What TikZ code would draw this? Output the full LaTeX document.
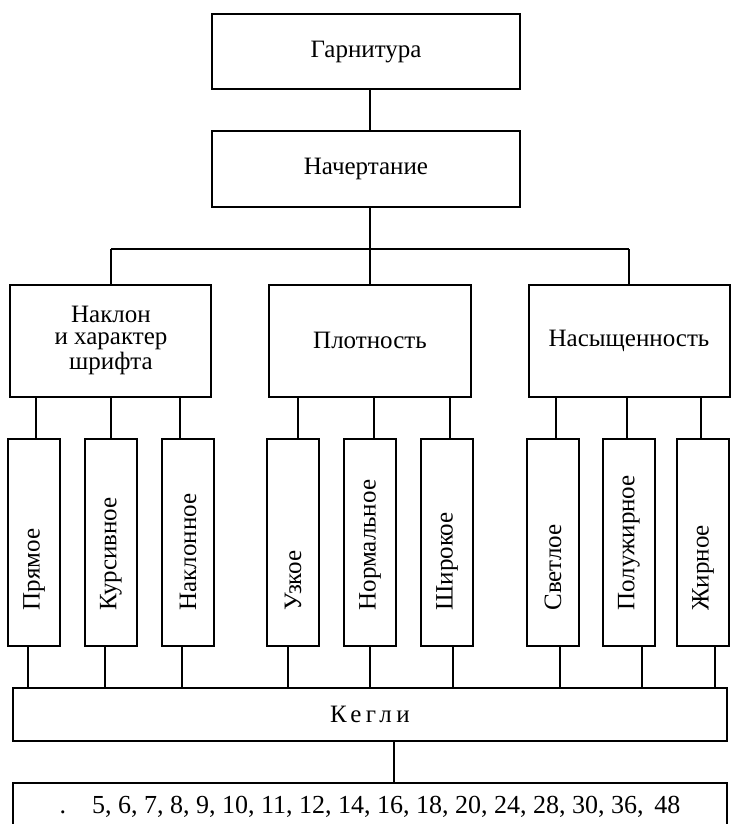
\documentclass[tikz,border=0pt]{standalone}
\usepackage{fontspec}
\setmainfont{Liberation Serif}
\usepackage{tikz}
\usetikzlibrary{positioning,calc}
\newcommand{\vtext}[1]{\rotatebox{90}{\makebox[68.5pt][l]{#1}}}

\begin{document}
\begin{tikzpicture}[
    node distance=20pt,
    line width=1pt,
    font=\fontsize{12.5}{11.3}\selectfont,
    topbox/.style={rectangle, draw, minimum width=153.5pt, minimum height=37.5pt},
    groupbox/.style={rectangle, draw, minimum width=100.5pt, minimum height=56pt, align=center},
    leaf/.style={rectangle, draw, minimum width=26pt, minimum height=103.5pt, inner sep=0pt},
    widebox/.style={rectangle, draw, minimum width=357pt, minimum height=26.5pt}
]
\useasboundingbox (-183pt,26pt) rectangle (182.5pt,-386pt);

% Typeface
\node[topbox] (garn) {Гарнитура};

% Design
\node[topbox, below=of garn] (nach) {Начертание};

% Three groups
\node[groupbox, below=38pt of nach, xshift=2pt] (plot) {Плотность};
\node[groupbox, left=28pt of plot] (nak) {Наклон\\и характер\\шрифта};
\node[groupbox, right=28pt of plot] (nas) {Насыщенность};

% Slope
\node[leaf, below=of nak] (kur) {\vtext{Курсивное}};
\node[leaf, left=11.5pt of kur] (pr) {\vtext{Прямое}};
\node[leaf, right=11.5pt of kur] (nakl) {\vtext{Наклонное}};

% Width
\node[leaf, below=of plot] (norm) {\vtext{Нормальное}};
\node[leaf, left=11.5pt of norm] (uz) {\vtext{Узкое}};
\node[leaf, right=11.5pt of norm] (shir) {\vtext{Широкое}};

% Weight
\node[leaf, below=of nas] (polu) {\vtext{Полужирное}};
\node[leaf, left=11pt of polu] (svet) {\vtext{Светлое}};
\node[leaf, right=10pt of polu] (zhir) {\vtext{Жирное}};

% Sizes
\node[widebox, below=of norm] (kegli) {\addfontfeature{LetterSpace=18}Кегли};
\node[widebox, below=of kegli, minimum height=24pt, font=\fontsize{13}{14}\selectfont] (sizes) {.\quad 5, 6, 7, 8, 9, 10, 11, 12, 14, 16, 18, 20, 24, 28, 30, 36,~\,48};

% Lines
\coordinate (bar) at ($(nach.south)!0.55!(plot.north)$);
\draw ([xshift=2pt]garn.south) -- ([xshift=2pt]nach.north);
\draw (plot.north) -- (plot.north |- nach.south);
\draw (nak.north |- bar) -- (nas.north |- bar);
\draw (nak.north) -- (nak.north |- bar);
\draw (nas.north) -- (nas.north |- bar);

\draw ([xshift=1pt]pr.north) -- ([xshift=1pt]pr.north |- nak.south);
\draw (kur.north) -- (kur.north |- nak.south);
\draw ([xshift=-4pt]nakl.north) -- ([xshift=-4pt]nakl.north |- nak.south);
\draw ([xshift=2.5pt]uz.north) -- ([xshift=2.5pt]uz.north |- plot.south);
\draw ([xshift=2pt]norm.north) -- ([xshift=2pt]norm.north |- plot.south);
\draw ([xshift=1.5pt]shir.north) -- ([xshift=1.5pt]shir.north |- plot.south);
\draw ([xshift=1.5pt]svet.north) -- ([xshift=1.5pt]svet.north |- nas.south);
\draw ([xshift=-1pt]polu.north) -- ([xshift=-1pt]polu.north |- nas.south);
\draw ([xshift=-1pt]zhir.north) -- ([xshift=-1pt]zhir.north |- nas.south);

\draw ([xshift=-3pt]pr.south) -- ([xshift=-3pt]pr.south |- kegli.north);
\draw ([xshift=-3pt]kur.south) -- ([xshift=-3pt]kur.south |- kegli.north);
\draw ([xshift=-3pt]nakl.south) -- ([xshift=-3pt]nakl.south |- kegli.north);
\draw ([xshift=-2.5pt]uz.south) -- ([xshift=-2.5pt]uz.south |- kegli.north);
\draw (norm.south) -- (norm.south |- kegli.north);
\draw ([xshift=3pt]shir.south) -- ([xshift=3pt]shir.south |- kegli.north);
\draw ([xshift=3.5pt]svet.south) -- ([xshift=3.5pt]svet.south |- kegli.north);
\draw ([xshift=6.5pt]polu.south) -- ([xshift=6.5pt]polu.south |- kegli.north);
\draw ([xshift=6pt]zhir.south) -- ([xshift=6pt]zhir.south |- kegli.north);

\draw ([xshift=12pt]kegli.south) -- ([xshift=12pt]sizes.north);

\end{tikzpicture}
\end{document}
